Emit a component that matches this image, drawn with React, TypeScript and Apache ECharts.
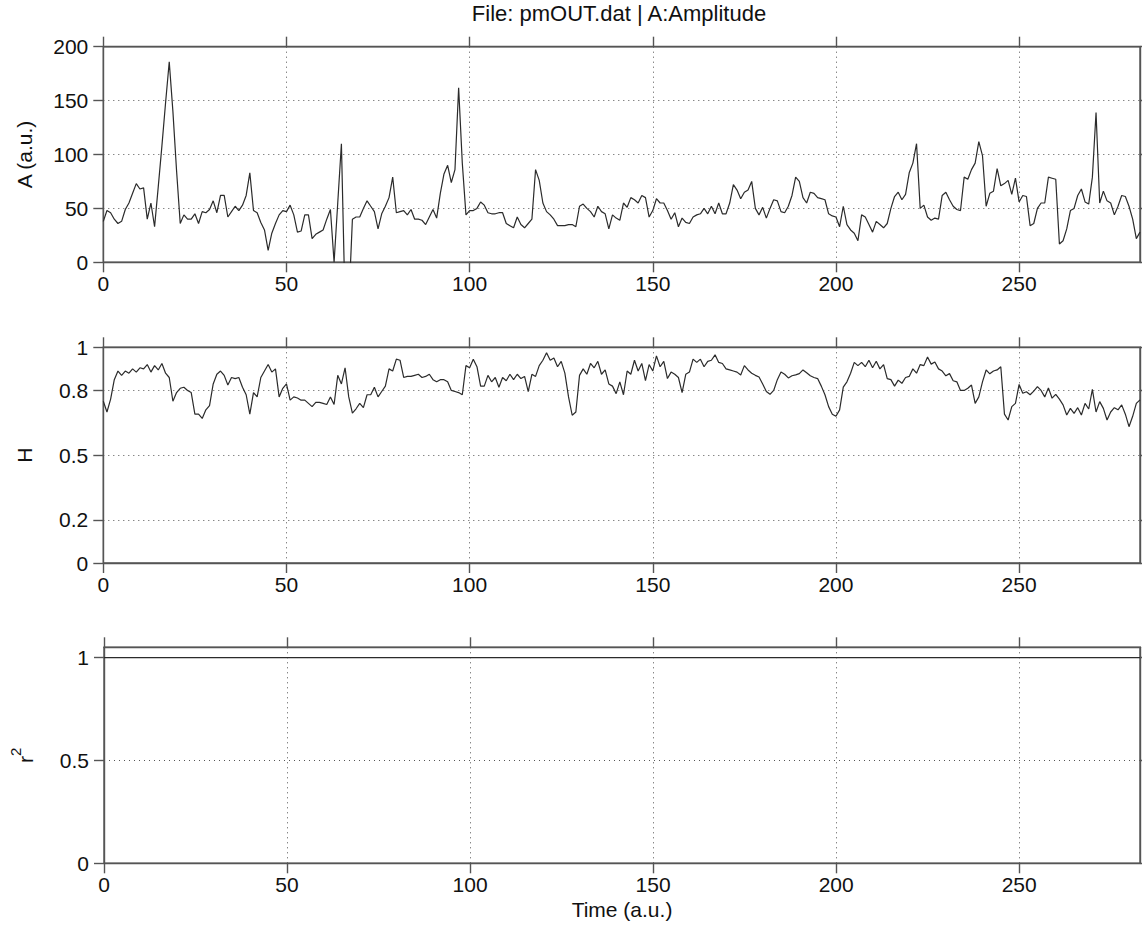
import React, { useEffect, useRef } from 'react';
import * as echarts from 'echarts';

// Amplitude A (a.u.) per time step t = 0..283
const AMPLITUDE = [
  38, 48, 46, 40, 36, 38, 49, 55, 64, 73,
  68, 69, 40, 55, 33, 70, 108, 148, 186, 140,
  85, 36, 44, 40, 40, 45, 36, 47, 46, 49,
  57, 46, 62, 62, 42, 47, 52, 48, 53, 62,
  83, 48, 46, 37, 30, 11, 27, 36, 44, 48,
  47, 53, 44, 28, 29, 44, 44, 22, 26, 28,
  30, 40, 49, 0, 55, 110, -40, -40, 40, 42,
  42, 50, 57, 52, 47, 31, 45, 52, 60, 79,
  46, 47, 48, 44, 49, 40, 40, 39, 35, 42,
  49, 41, 64, 82, 90, 74, 86, 162, 92, 44,
  48, 48, 50, 56, 53, 46, 45, 45, 46, 46,
  36, 34, 32, 42, 35, 32, 36, 40, 86, 76,
  55, 47, 44, 40, 34, 34, 34, 35, 35, 33,
  52, 54, 50, 47, 42, 52, 47, 45, 31, 44,
  41, 39, 55, 51, 60, 58, 55, 62, 60, 42,
  48, 59, 55, 55, 48, 40, 46, 33, 41, 37,
  36, 42, 44, 45, 50, 45, 52, 45, 55, 45,
  45, 55, 72, 67, 59, 65, 67, 75, 50, 44,
  51, 41, 50, 58, 57, 47, 46, 52, 62, 79,
  75, 60, 55, 65, 64, 60, 59, 58, 45, 43,
  42, 33, 52, 35, 30, 27, 20, 44, 42, 35,
  28, 38, 35, 32, 36, 50, 61, 65, 58, 63,
  83, 92, 110, 50, 53, 42, 39, 41, 40, 62,
  65, 58, 52, 49, 48, 79, 77, 86, 92, 112,
  99, 52, 64, 66, 87, 71, 73, 76, 63, 78,
  56, 62, 61, 34, 36, 50, 55, 55, 79, 78,
  77, 17, 20, 31, 48, 50, 62, 68, 56, 54,
  79, 139, 55, 66, 57, 55, 44, 52, 62, 61,
  52, 40, 22, 28,
];

// H per time step t = 0..283
const HURST = [
  0.75, 0.70, 0.76, 0.85, 0.89, 0.87, 0.89, 0.88, 0.90, 0.885,
  0.905, 0.90, 0.92, 0.885, 0.915, 0.895, 0.925, 0.88, 0.86, 0.75,
  0.79, 0.81, 0.815, 0.80, 0.79, 0.69, 0.69, 0.67, 0.71, 0.73,
  0.83, 0.875, 0.89, 0.87, 0.825, 0.86, 0.855, 0.86, 0.815, 0.78,
  0.69, 0.79, 0.77, 0.86, 0.89, 0.92, 0.885, 0.90, 0.77, 0.81,
  0.83, 0.755, 0.77, 0.765, 0.755, 0.755, 0.74, 0.725, 0.745, 0.745,
  0.74, 0.735, 0.77, 0.735, 0.87, 0.83, 0.905, 0.77, 0.695, 0.715,
  0.74, 0.72, 0.78, 0.78, 0.815, 0.77, 0.795, 0.82, 0.90, 0.89,
  0.945, 0.94, 0.86, 0.865, 0.865, 0.87, 0.875, 0.86, 0.865, 0.875,
  0.85, 0.84, 0.85, 0.85, 0.84, 0.80, 0.795, 0.79, 0.78, 0.915,
  0.905, 0.945, 0.91, 0.82, 0.82, 0.87, 0.84, 0.86, 0.815, 0.86,
  0.845, 0.875, 0.85, 0.875, 0.855, 0.865, 0.795, 0.875, 0.865, 0.915,
  0.94, 0.975, 0.94, 0.95, 0.91, 0.935, 0.88, 0.77, 0.685, 0.70,
  0.87, 0.90, 0.875, 0.925, 0.905, 0.935, 0.875, 0.895, 0.83, 0.82,
  0.785, 0.84, 0.78, 0.89, 0.875, 0.94, 0.89, 0.925, 0.845, 0.92,
  0.89, 0.96, 0.91, 0.935, 0.855, 0.885, 0.875, 0.86, 0.79, 0.875,
  0.885, 0.945, 0.93, 0.945, 0.91, 0.935, 0.94, 0.965, 0.93, 0.925,
  0.90, 0.895, 0.89, 0.885, 0.872, 0.915, 0.895, 0.88, 0.87, 0.862,
  0.83, 0.795, 0.782, 0.80, 0.85, 0.885, 0.875, 0.858, 0.868, 0.872,
  0.878, 0.895, 0.882, 0.868, 0.86, 0.855, 0.82, 0.78, 0.725, 0.69,
  0.68, 0.71, 0.815, 0.84, 0.88, 0.93, 0.915, 0.93, 0.91, 0.94,
  0.905, 0.935, 0.90, 0.92, 0.855, 0.85, 0.82, 0.848, 0.833, 0.86,
  0.865, 0.90, 0.88, 0.92, 0.915, 0.955, 0.922, 0.932, 0.90, 0.89,
  0.868, 0.878, 0.845, 0.84, 0.80, 0.80, 0.81, 0.825, 0.74, 0.77,
  0.84, 0.895, 0.877, 0.89, 0.895, 0.91, 0.69, 0.663, 0.725, 0.74,
  0.828, 0.787, 0.794, 0.78, 0.797, 0.818, 0.80, 0.77, 0.812, 0.764,
  0.782, 0.76, 0.733, 0.686, 0.717, 0.694, 0.72, 0.686, 0.74, 0.714,
  0.805, 0.70, 0.748, 0.717, 0.663, 0.70, 0.72, 0.71, 0.733, 0.69,
  0.632, 0.68, 0.74, 0.756,
];

// Time steps
const TIME = AMPLITUDE.map((_, i) => i);
// r^2 reads 1 at every time step
const R2 = TIME.map(() => 1);

const X_TICKS = [0, 50, 100, 150, 200, 250];
const A_TICKS = [0, 50, 100, 150, 200];
const H_TICKS = [0, 0.2, 0.5, 0.8, 1];
const R2_TICKS = [0, 0.5, 1];

const TITLE = 'File: pmOUT.dat | A:Amplitude';
const X_NAME = 'Time (a.u.)';
const Y_NAMES = ['A (a.u.)', 'H', '{r|r}{s|2}'];

const FONT = '"Liberation Sans", Arial, Helvetica, sans-serif';
const TEXT_COLOR = '#111';
const AXIS_COLOR = '#555';
const GRID_COLOR = '#555';
const FS = 21;

export default function App() {
  const ref = useRef<HTMLDivElement>(null);

  useEffect(() => {
    if (!ref.current) return;
    const chart = echarts.init(ref.current, undefined, { renderer: 'svg' });

    const X_MAX = TIME[TIME.length - 1];
    const panels = [
      { top: 46.7, height: 215.6, min: 0, max: 200, ticks: A_TICKS, values: AMPLITUDE },
      { top: 347.3, height: 215.7, min: 0, max: 1, ticks: H_TICKS, values: HURST },
      { top: 647.3, height: 216, min: 0, max: 1.05, ticks: R2_TICKS, values: R2 },
    ];

    const grid: any[] = [];
    const xAxis: any[] = [];
    const yAxis: any[] = [];
    const series: any[] = [];

    const lineStyle = { color: AXIS_COLOR, width: 1.4 };

    panels.forEach((p, i) => {
      grid.push({
        left: 103.3,
        right: 2,
        top: p.top,
        height: p.height,
        show: true,
        borderColor: AXIS_COLOR,
        borderWidth: 1.4,
        backgroundColor: '#fff',
      });
      xAxis.push({
        type: 'value',
        gridIndex: i,
        min: 0,
        max: X_MAX,
        position: 'bottom',
        axisLine: { show: true, onZero: false, lineStyle },
        axisTick: { show: true, inside: false, length: 10, customValues: X_TICKS, lineStyle },
        axisLabel: {
          show: true,
          customValues: X_TICKS,
          margin: 11,
          fontSize: FS,
          fontFamily: FONT,
          color: TEXT_COLOR,
        },
        splitLine: { show: true, lineStyle: { type: [1, 4], color: GRID_COLOR, width: 1 } },
        name: i === 2 ? X_NAME : '',
        nameLocation: 'middle',
        nameGap: 36,
        nameTextStyle: { fontSize: FS, fontFamily: FONT, color: TEXT_COLOR },
      });
      xAxis.push({
        type: 'value',
        gridIndex: i,
        min: 0,
        max: X_MAX,
        position: 'top',
        axisLine: { show: true, onZero: false, lineStyle },
        axisTick: { show: true, inside: false, length: 10, customValues: X_TICKS, lineStyle },
        axisLabel: { show: false, customValues: X_TICKS },
        splitLine: { show: false },
      });
      yAxis.push({
        type: 'value',
        gridIndex: i,
        min: p.min,
        max: p.max,
        position: 'left',
        axisLine: { show: true, onZero: false, lineStyle },
        axisTick: { show: true, inside: false, length: 10, customValues: p.ticks, lineStyle },
        axisLabel: {
          show: true,
          customValues: p.ticks,
          margin: 15,
          fontSize: FS,
          fontFamily: FONT,
          color: TEXT_COLOR,
        },
        splitLine: { show: true, lineStyle: { type: [1, 4], color: GRID_COLOR, width: 1 } },
        name: Y_NAMES[i],
        nameLocation: 'middle',
        nameGap: 68,
        nameRotate: 90,
        nameTextStyle: {
          fontSize: FS,
          fontFamily: FONT,
          color: TEXT_COLOR,
          rich: {
            r: { fontSize: FS, fontFamily: FONT, color: TEXT_COLOR, verticalAlign: 'bottom', lineHeight: 28 },
            s: { fontSize: 15, fontFamily: FONT, color: TEXT_COLOR, verticalAlign: 'top', lineHeight: 28 },
          },
        },
      });
      yAxis.push({
        type: 'value',
        gridIndex: i,
        min: p.min,
        max: p.max,
        position: 'right',
        axisLine: { show: true, onZero: false, lineStyle },
        axisTick: { show: true, inside: false, length: 10, customValues: p.ticks, lineStyle },
        axisLabel: { show: false, customValues: p.ticks },
        splitLine: { show: false },
      });
      series.push({
        type: 'line',
        xAxisIndex: i * 2,
        yAxisIndex: i * 2,
        data: TIME.map((t, k) => [t, p.values[k]]),
        showSymbol: false,
        symbol: 'none',
        clip: true,
        lineStyle: { color: '#2b2b2b', width: 1.2 },
        silent: true,
      });
    });

    chart.setOption({
      animation: false,
      backgroundColor: '#fff',
      grid,
      xAxis,
      yAxis,
      series,
      graphic: [
        {
          type: 'text',
          x: 619,
          y: 13,
          style: {
            text: TITLE,
            fontSize: 22,
            fontFamily: FONT,
            fill: TEXT_COLOR,
            align: 'center',
            verticalAlign: 'middle',
            textAlign: 'center',
            textVerticalAlign: 'middle',
          },
        },
      ],
    });

    return () => chart.dispose();
  }, []);

  return (
    <div
      ref={ref}
      style={{ position: 'fixed', left: 0, top: 0, width: 1142, height: 938, background: '#fff' }}
    />
  );
}
